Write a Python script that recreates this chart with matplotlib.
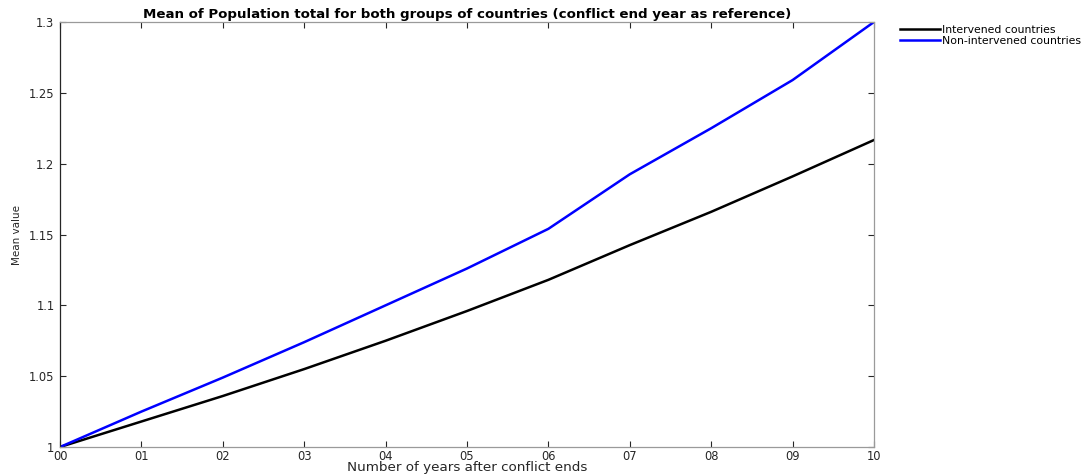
import matplotlib
matplotlib.use("Agg")
import matplotlib.pyplot as plt

# years after conflict end and mean (normalised) population per group
years = list(range(11))
year_labels = ["00", "01", "02", "03", "04", "05", "06", "07", "08", "09", "10"]
intervened = [1.0, 1.018, 1.036, 1.055, 1.075, 1.096, 1.118, 1.1425, 1.166, 1.191, 1.2167]
non_intervened = [1.0, 1.025, 1.049, 1.074, 1.100, 1.126, 1.154, 1.1925, 1.225, 1.259, 1.300]
y_ticks = [1.0, 1.05, 1.1, 1.15, 1.2, 1.25, 1.3]

fig = plt.figure(figsize=(10.85, 4.76), dpi=100)
ax = fig.add_axes([0.0553, 0.0609, 0.7502, 0.8929])

ax.plot(years, intervened, color="black", lw=1.8, label="Intervened countries")
ax.plot(years, non_intervened, color="#0000ff", lw=1.8, label="Non-intervened countries")

ax.set_xlim(0, 10)
ax.set_ylim(1.0, 1.3)
ax.set_xticks(years)
ax.set_xticklabels(year_labels)
ax.set_yticks(y_ticks)
ax.set_yticklabels(["%g" % v for v in y_ticks])
ax.tick_params(direction="in", top=True, right=True, labelsize=8.3, length=4,
               width=0.8, colors="#262626")
ax.tick_params(axis="x", pad=2)
ax.tick_params(axis="y", pad=4)

ax.spines["left"].set_color("#262626")
for side in ["bottom", "top", "right"]:
    ax.spines[side].set_color("#9a9a9a")
for s in ax.spines.values():
    s.set_linewidth(0.9)

ax.set_title("Mean of Population total for both groups of countries (conflict end year as reference)",
             fontsize=9.6, fontweight="bold", pad=3)
ax.set_xlabel("Number of years after conflict ends", fontsize=9.7, labelpad=-1.5,
              color="#262626")
ax.set_ylabel("Mean value", fontsize=7.5, labelpad=5, color="#262626")

ax.legend(loc="upper left", bbox_to_anchor=(1.027, 1.003), frameon=False, fontsize=7.8,
          handlelength=3.7, handletextpad=0.15, labelspacing=0.1, borderaxespad=0)

fig.savefig("out.png", dpi=100)
